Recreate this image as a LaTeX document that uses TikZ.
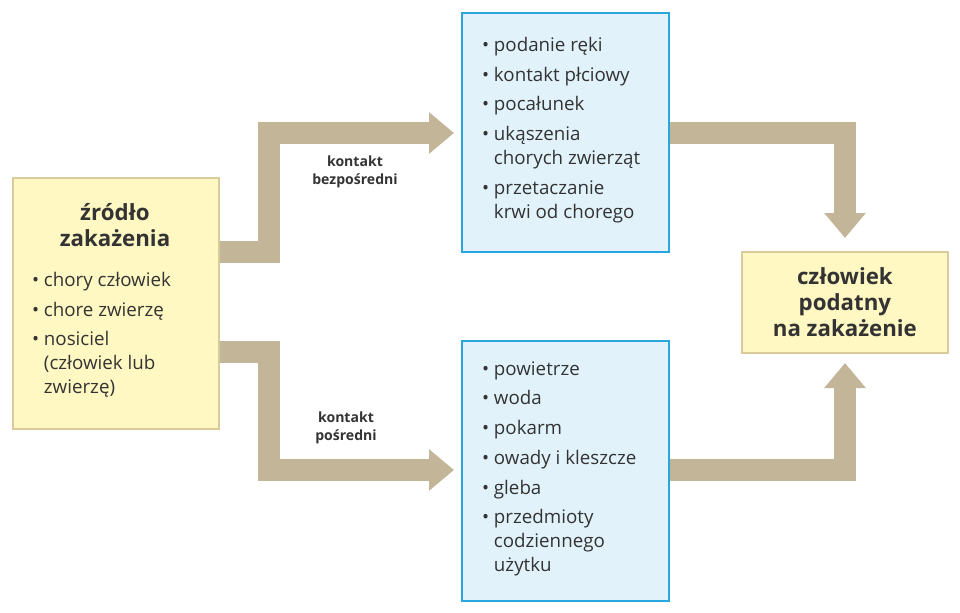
\documentclass[tikz,border=0pt]{standalone}
\usepackage{fontspec}
\setmainfont{Open Sans}
\usetikzlibrary{positioning,arrows.meta}
\definecolor{tan}{HTML}{C3B598}
\definecolor{ybox}{HTML}{FFF8C2}
\definecolor{yline}{HTML}{D9CB9A}
\definecolor{bbox}{HTML}{E1F2FB}
\definecolor{bline}{HTML}{2AA6DF}
\definecolor{txt}{HTML}{333333}
\tikzset{
    % boxes
    srcbox/.style={draw=yline, line width=1.5pt, fill=ybox, anchor=north west, text=txt},
    waybox/.style={draw=bline, line width=1.5pt, fill=bbox, anchor=north west, text=txt},
    % bullet lists
    list/.style={text=txt, anchor=north west, inner sep=0pt, align=left, font=\fontsize{16}{20.4}\selectfont},
    % thick arrows
    band/.style={draw=tan, line width=0.68cm, -{Triangle[length=0.75cm,width=1.2cm]}},
    lab/.style={text=txt, font=\bfseries\fontsize{12}{15}\selectfont, align=center}
}
\newcommand{\bul}{•\hspace{4pt}}
\newcommand{\ind}{\hphantom{•\hspace{4pt}}}
\begin{document}
\begin{tikzpicture}[x=0.03cm, y=-0.03cm]
\useasboundingbox (0,0) rectangle (960,612);

\node[srcbox, minimum width=6.18cm, minimum height=7.53cm] (source) at (12,177) {};
\node[text=txt, font=\bfseries\fontsize{19}{22}\selectfont, align=center] (sourcetitle) at (115,225) {źródło\\zakażenia};
\node[list] (sourcelist) at (32,272)
  {\bul chory człowiek\\[5pt]
   \bul chore zwierzę\\[5pt]
   \bul nosiciel\\
   \ind (człowiek lub\\
   \ind zwierzę)};

\node[waybox, minimum width=6.21cm, minimum height=7.17cm] (direct) at (461,12) {};
\node[list] (directlist) at (482,37)
  {\bul podanie ręki\\[5pt]
   \bul kontakt płciowy\\[5pt]
   \bul pocałunek\\[5pt]
   \bul ukąszenia\\
   \ind chorych zwierząt\\[5pt]
   \bul przetaczanie\\
   \ind krwi od chorego};

\node[waybox, minimum width=6.21cm, minimum height=7.8cm] (indirect) at (461,340) {};
\node[list] (indirectlist) at (482,361)
  {\bul powietrze\\[5pt]
   \bul woda\\[5pt]
   \bul pokarm\\[5pt]
   \bul owady i kleszcze\\[5pt]
   \bul gleba\\[5pt]
   \bul przedmioty\\
   \ind codziennego\\
   \ind użytku};

\node[srcbox, minimum width=6.18cm, minimum height=3.03cm, font=\bfseries\fontsize{19}{22}\selectfont, align=center] (target) at (741,251) {człowiek\\podatny\\na zakażenie};

\coordinate (ta) at (454,133);
\coordinate (tb) at (454,470);
\coordinate (ra) at (845,238);
\coordinate (rb) at (845,363);

\draw[band] (source.east |- 0,252) -- (269,252) -- (269,133) -- (ta);
\draw[band] (source.east |- 0,352) -- (269,352) -- (269,470) -- (tb);
\draw[band] (direct.east |- 0,133) -- (845,133) -- (ra);
\draw[band] (indirect.east |- 0,470) -- (845,470) -- (rb);

\node[lab] (labdirect) at (355,172) {kontakt\\bezpośredni};
\node[lab] (labindirect) at (346,428) {kontakt\\pośredni};
\end{tikzpicture}
\end{document}
